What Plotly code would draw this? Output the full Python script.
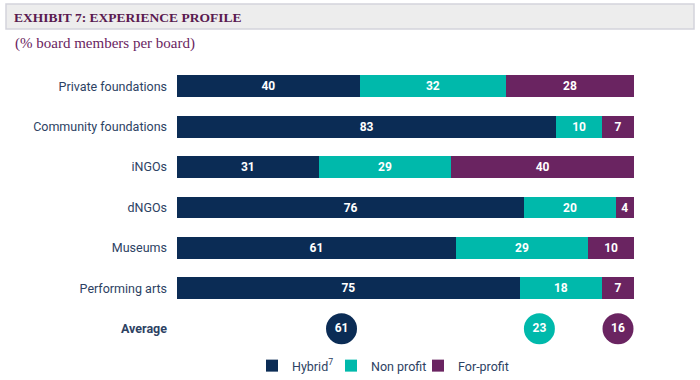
import plotly.graph_objects as go

categories = ["Private foundations", "Community foundations", "iNGOs", "dNGOs", "Museums", "Performing arts"]
hybrid = [40, 83, 31, 76, 61, 75]
non_profit = [32, 10, 29, 20, 29, 18]
for_profit = [28, 7, 40, 4, 10, 7]
average_label = "Average"
average_values = [61, 23, 16]
average_positions = [36, 79.3, 96.5]  # horizontal placement of the average bubbles (% scale)

NAVY = "#0b2c55"
TEAL = "#00b9ab"
PURPLE = "#6a2461"
LABEL = "#2d4263"

W, H = 700, 380
L, R, T, B = 177, 66, 66, 31
pw, ph = W - L - R, H - T - B

def px(x):
    return (x - L) / pw

def py(y):
    return (H - B - y) / ph

ypos = list(range(len(categories)))

fig = go.Figure()
series = [("Hybrid<sup>7</sup>", hybrid, NAVY, 34),
          ("Non profit", non_profit, TEAL, 42),
          ("For-profit", for_profit, PURPLE, 62)]
for name, vals, col, lw in series:
    fig.add_trace(go.Bar(
        y=ypos, x=vals, name=name, orientation="h",
        marker=dict(color=col, line=dict(width=0)),
        width=0.54, legendwidth=lw,
        text=[str(v) for v in vals], textposition="inside", insidetextanchor="middle",
        textfont=dict(family="Roboto", size=12, color="white", weight="bold"),
        constraintext="none", cliponaxis=False,
        hoverinfo="skip",
    ))

fig.add_trace(go.Scatter(
    x=average_positions, y=[len(categories)] * 3, mode="markers+text",
    marker=dict(size=31, color=[NAVY, TEAL, PURPLE], line=dict(width=0)),
    text=[str(v) for v in average_values], textposition="middle center",
    textfont=dict(family="Roboto", size=12, color="white", weight="bold"),
    showlegend=False, cliponaxis=False, hoverinfo="skip",
))

fig.update_layout(
    width=W, height=H, barmode="stack",
    margin=dict(l=L, r=R, t=T, b=B, autoexpand=False),
    paper_bgcolor="white", plot_bgcolor="white",
    showlegend=True,
    legend=dict(orientation="h", x=px(252), xanchor="left", y=py(366), yanchor="middle",
                font=dict(family="Roboto", size=12.5, color=LABEL), itemwidth=30, traceorder="normal",
                bgcolor="rgba(0,0,0,0)"),
    xaxis=dict(range=[0, 100], visible=False, fixedrange=True),
    yaxis=dict(range=[len(categories) + 0.5, -0.5], tickvals=ypos + [len(categories)],
               ticktext=categories + ["<b>" + average_label + "</b>"],
               tickfont=dict(family="Roboto", size=12.5, color=LABEL),
               showgrid=False, zeroline=False, showline=False, ticks="", ticklabelstandoff=9,
               fixedrange=True),
    shapes=[dict(type="rect", xref="paper", yref="paper", x0=px(6), x1=px(694), y0=py(29), y1=py(4),
                 fillcolor="#ededed", line=dict(color="#d3d3db", width=1.5), layer="below")],
    annotations=[
        dict(text="<b>EXHIBIT 7: EXPERIENCE PROFILE</b>", xref="paper", yref="paper", x=px(12), y=py(17),
             xanchor="left", yanchor="middle", showarrow=False,
             font=dict(family="Liberation Serif", size=13.5, color="#5a1a50")),
        dict(text="(% board members per board)", xref="paper", yref="paper", x=px(13), y=py(43),
             xanchor="left", yanchor="middle", showarrow=False,
             font=dict(family="Liberation Serif", size=15, color="#6a2461")),
    ],
)

fig.write_html("out.html", config={"displayModeBar": False},
               post_script="document.body.style.margin='0px';document.body.style.overflow='hidden';")
